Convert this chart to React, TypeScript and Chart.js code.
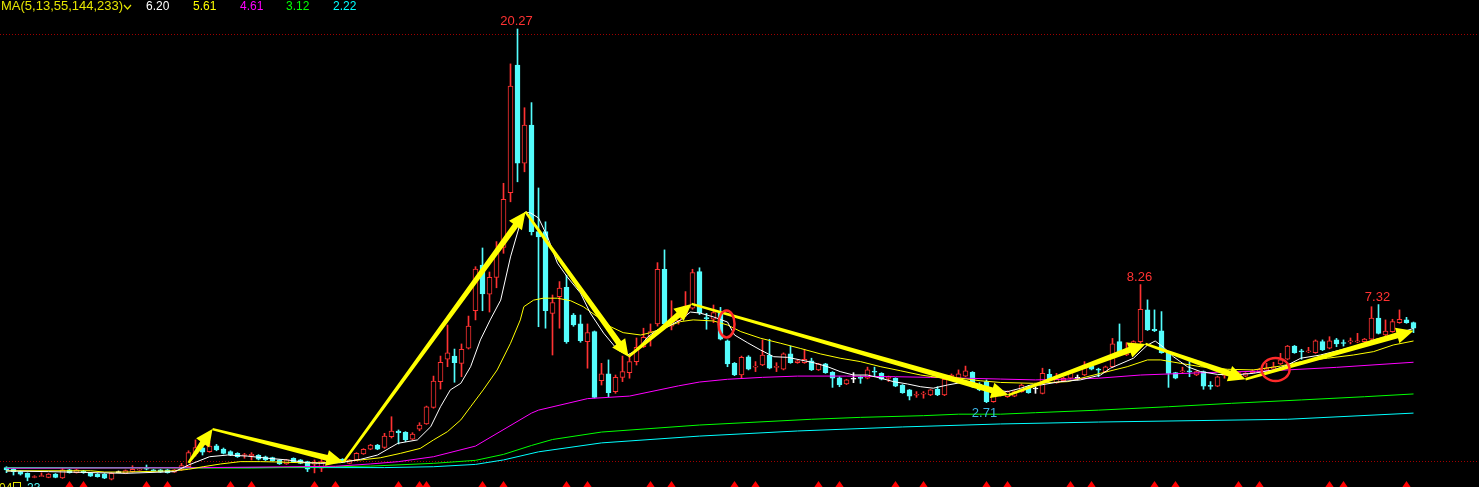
import React, { useEffect, useRef } from 'react';
import { Chart, registerables } from 'chart.js';

Chart.register(...registerables);

const W = 1479;
const H = 487;

// ---- candle data (前复权 prices) ----
const opens = [
  -0.34, -0.42, -0.53, -0.61, -0.79, -0.74, -0.80, -0.65, -0.82, -0.45,
  -0.58, -0.50, -0.61, -0.65, -0.65, -0.89, -0.53, -0.61, -0.53, -0.45,
  -0.37, -0.45, -0.45, -0.45, -0.55, -0.45, -0.30, 0.30, 0.59, 0.41,
  0.68, 0.53, 0.41, 0.33, 0.23, 0.22, 0.24, 0.17, 0.13, 0.02,
  -0.17, 0.10, 0.02, -0.06, -0.15, -0.37, -0.09, 0.02, 0.05, -0.14,
  0.02, 0.30, 0.52, 0.72, 0.61, 1.11, 1.38, 1.32, 0.99, 1.46,
  1.71, 2.49, 3.70, 4.76, 4.90, 4.56, 5.27, 7.03, 9.18, 7.81,
  8.60, 10.01, 12.58, 18.58, 13.96, 15.76, 10.75, 10.75, 6.91, 7.69,
  8.13, 6.83, 6.41, 5.58, 6.05, 3.74, 4.06, 3.23, 3.90, 4.12,
  4.64, 5.34, 5.81, 6.41, 8.98, 6.31, 6.55, 6.91, 7.15, 8.87,
  6.70, 6.63, 6.94, 5.62, 4.56, 4.01, 4.87, 4.38, 4.48, 4.95,
  4.37, 4.28, 5.00, 4.59, 4.59, 4.68, 4.25, 4.53, 4.14, 3.88,
  3.59, 3.86, 3.87, 3.86, 4.16, 4.09, 3.85, 3.86, 3.54, 3.31,
  3.06, 3.11, 3.07, 3.34, 3.07, 3.86, 3.86, 3.96, 4.14, 3.59,
  3.70, 2.76, 3.07, 2.99, 3.02, 3.23, 3.46, 3.40, 3.15, 4.04,
  3.64, 3.74, 3.86, 3.90, 4.01, 4.43, 4.26, 4.17, 4.40, 5.58,
  4.95, 5.31, 5.58, 7.07, 6.16, 6.09, 5.03, 4.12, 4.16, 4.18,
  4.01, 4.17, 3.50, 3.49, 3.99, 4.01, 4.01, 3.96, 4.12, 4.17,
  4.25, 4.28, 4.53, 4.75, 5.37, 5.12, 5.10, 5.06, 5.58, 5.27,
  5.66, 5.51, 5.57, 5.57, 5.58, 5.69, 6.68, 5.89, 6.05, 6.47,
  6.60, 6.47,
];
const highs = [
  -0.30, -0.37, -0.50, -0.59, -0.72, -0.59, -0.62, -0.62, -0.37, -0.42,
  -0.42, -0.47, -0.58, -0.62, -0.62, -0.58, -0.50, -0.45, -0.25, -0.38,
  -0.22, -0.43, -0.43, -0.43, -0.43, -0.14, 0.45, 0.96, 0.72, 0.86,
  0.75, 0.58, 0.45, 0.36, 0.33, 0.36, 0.27, 0.20, 0.15, 0.04,
  0.04, 0.12, 0.04, -0.04, 0.02, 0.10, 0.28, 0.05, 0.08, 0.04,
  0.36, 0.55, 0.75, 0.75, 1.27, 2.05, 1.43, 1.35, 1.30, 1.77,
  2.55, 3.96, 4.90, 6.36, 5.23, 5.47, 6.78, 9.10, 9.98, 8.85,
  10.28, 13.02, 18.63, 20.27, 16.57, 16.81, 12.80, 11.21, 7.77, 8.40,
  8.70, 6.90, 6.83, 6.41, 6.08, 4.56, 4.72, 4.01, 4.90, 4.90,
  5.75, 6.21, 6.41, 9.29, 9.89, 7.50, 7.00, 7.93, 8.98, 9.05,
  6.91, 7.30, 7.19, 5.66, 4.60, 4.90, 4.92, 4.64, 5.66, 5.69,
  4.59, 5.05, 5.37, 4.72, 5.22, 4.80, 4.56, 4.56, 4.17, 3.93,
  3.81, 4.12, 3.96, 4.38, 4.38, 4.12, 3.96, 3.88, 3.56, 3.33,
  3.23, 3.23, 3.33, 3.46, 3.83, 4.06, 4.25, 4.43, 4.17, 3.65,
  3.78, 3.15, 3.20, 3.27, 3.27, 3.59, 3.52, 3.46, 4.33, 4.28,
  4.09, 3.90, 4.21, 4.01, 4.64, 4.48, 4.33, 4.43, 5.73, 6.41,
  5.53, 5.62, 8.26, 7.54, 7.07, 6.99, 5.06, 4.14, 4.38, 4.64,
  4.20, 4.20, 3.70, 3.96, 4.12, 4.12, 4.14, 4.12, 4.25, 4.33,
  4.56, 4.61, 5.03, 5.40, 5.40, 5.22, 5.31, 5.66, 5.66, 5.81,
  5.73, 5.66, 5.75, 5.97, 5.73, 7.22, 7.32, 6.60, 6.63, 7.07,
  6.72, 6.50,
];
const lows = [
  -0.58, -0.69, -0.69, -0.96, -0.82, -0.76, -0.82, -0.82, -0.85, -0.60,
  -0.60, -0.61, -0.76, -0.79, -0.86, -0.92, -0.56, -0.63, -0.55, -0.47,
  -0.45, -0.50, -0.57, -0.60, -0.57, -0.47, -0.35, 0.20, 0.25, 0.38,
  0.45, 0.30, 0.22, 0.14, 0.10, 0.02, 0.02, -0.01, -0.04, -0.19,
  -0.19, -0.11, -0.16, -0.53, -0.59, -0.53, -0.11, -0.11, -0.10, -0.16,
  0.00, 0.28, 0.50, 0.50, 0.56, 1.05, 0.77, 0.88, 0.96, 1.39,
  1.69, 2.45, 3.35, 4.40, 3.67, 3.93, 5.23, 6.60, 7.03, 6.97,
  8.11, 9.73, 12.15, 13.09, 13.56, 10.59, 6.28, 6.21, 4.95, 6.21,
  5.50, 6.30, 5.55, 4.33, 2.93, 3.54, 2.99, 3.15, 3.70, 3.86,
  4.48, 5.30, 5.37, 6.31, 6.31, 6.13, 6.40, 6.75, 7.10, 6.85,
  6.16, 6.47, 5.66, 4.40, 3.98, 3.86, 4.25, 4.17, 4.45, 4.30,
  4.17, 4.25, 4.56, 4.56, 4.56, 4.22, 4.22, 4.09, 3.43, 3.46,
  3.56, 3.65, 3.62, 3.83, 3.93, 3.78, 3.70, 3.46, 3.15, 2.84,
  2.96, 2.92, 3.04, 3.04, 3.04, 3.81, 3.83, 3.93, 3.43, 3.27,
  2.71, 2.73, 3.02, 2.96, 2.99, 3.20, 3.15, 3.15, 3.12, 3.75,
  3.62, 3.72, 3.83, 3.78, 3.98, 4.25, 3.93, 4.14, 4.37, 5.08,
  4.92, 5.28, 5.50, 6.10, 6.05, 5.03, 3.43, 3.83, 4.10, 3.93,
  3.98, 3.34, 3.34, 3.46, 3.86, 3.98, 3.98, 3.93, 4.10, 4.14,
  4.22, 4.25, 4.50, 4.72, 5.03, 4.75, 5.06, 5.03, 5.16, 5.24,
  5.34, 5.37, 5.47, 5.53, 5.55, 5.66, 5.94, 5.86, 6.02, 6.44,
  6.44, 6.00,
];
const closes = [
  -0.45, -0.53, -0.65, -0.80, -0.76, -0.72, -0.65, -0.80, -0.45, -0.58,
  -0.45, -0.58, -0.74, -0.77, -0.84, -0.61, -0.53, -0.48, -0.42, -0.41,
  -0.42, -0.48, -0.55, -0.58, -0.45, -0.25, 0.36, 0.60, 0.38, 0.67,
  0.49, 0.33, 0.25, 0.17, 0.25, 0.28, 0.05, 0.02, -0.02, -0.17,
  0.02, -0.09, -0.14, -0.42, -0.13, -0.06, 0.17, -0.09, -0.08, 0.02,
  0.33, 0.52, 0.72, 0.53, 1.14, 1.38, 1.30, 0.96, 1.24, 1.66,
  2.52, 3.73, 4.61, 5.05, 4.59, 5.22, 6.31, 8.99, 7.82, 8.60,
  9.81, 12.27, 17.59, 13.96, 15.76, 10.75, 10.50, 7.03, 7.41, 8.09,
  5.58, 6.36, 5.62, 6.00, 2.96, 4.06, 3.18, 3.90, 4.17, 4.64,
  5.31, 5.78, 6.05, 8.98, 6.41, 6.63, 6.75, 7.25, 8.82, 6.94,
  6.66, 6.94, 5.69, 4.53, 4.01, 4.84, 4.28, 4.40, 4.95, 4.33,
  4.39, 5.00, 4.59, 4.68, 4.75, 4.25, 4.53, 4.12, 3.86, 3.54,
  3.78, 3.86, 3.85, 4.25, 4.14, 3.81, 3.87, 3.49, 3.18, 3.02,
  3.08, 3.13, 3.31, 3.07, 3.81, 4.01, 4.06, 4.21, 3.46, 3.31,
  2.76, 3.02, 3.12, 3.23, 3.23, 3.54, 3.18, 3.40, 4.09, 3.78,
  3.81, 3.86, 4.17, 3.90, 4.48, 4.28, 4.24, 4.40, 5.47, 5.11,
  5.11, 5.58, 7.10, 6.13, 6.09, 5.06, 4.09, 3.86, 4.18, 4.16,
  4.17, 3.49, 3.48, 3.93, 4.01, 4.08, 4.12, 4.09, 4.21, 4.28,
  4.33, 4.40, 4.72, 5.37, 5.06, 5.10, 5.12, 5.62, 5.19, 5.62,
  5.47, 5.49, 5.59, 5.59, 5.70, 6.68, 5.97, 6.08, 6.52, 6.63,
  6.47, 6.21,
];

// ---- moving-average lines: [bar index, value] ----
const ma5Pts = [
  [0, -0.50], [6, -0.53], [17, -0.61], [24, -0.53], [26, -0.22], [29, 0.17], [31.6, 0.25], [34.4, 0.20],
  [37.3, 0.10], [40.1, 0.02], [43, -0.11], [44.9, -0.14], [47.7, -0.11], [50.6, 0.05], [53, 0.25],
  [55.9, 0.80], [58.7, 0.96], [60.6, 1.58], [62, 2.52], [63.4, 3.31], [64.9, 3.62], [66.3, 4.40],
  [67.7, 5.66], [69.1, 6.60], [70.6, 7.53], [72, 9.56], [73.4, 11.15], [74.1, 11.67], [74.9, 11.62],
  [76, 11.39], [77.3, 10.50], [78.7, 9.27], [80.1, 8.62], [82, 7.86], [83.4, 6.92], [85.3, 5.98],
  [87.3, 5.19], [88.7, 4.95], [90.1, 5.19], [91.6, 5.80], [93, 6.13], [94.4, 6.27], [96.3, 6.60],
  [97.7, 6.97], [99.1, 6.92], [101, 6.74], [103, 6.50], [104, 5.89], [105.9, 5.52], [107.7, 5.19],
  [109.6, 4.87], [111.6, 4.84], [113.4, 4.72], [115.3, 4.59], [117.3, 4.40], [119.1, 4.17], [121, 4.01],
  [123, 4.01], [124.9, 3.86], [126.7, 3.70], [128.7, 3.59], [130.6, 3.46], [132.4, 3.39], [134.4, 3.54],
  [136.3, 3.65], [137.7, 3.70], [139.1, 3.54], [141, 3.31], [143, 3.23], [144.9, 3.39], [146.3, 3.54],
  [147.7, 3.54], [150.6, 3.70], [153.4, 3.78], [156.3, 4.01], [157.7, 4.33], [161, 4.80], [163, 5.42],
  [164.1, 5.61], [165.3, 5.31], [166.7, 4.87], [168.7, 4.40], [170.6, 4.17], [173, 4.04], [175.3, 4.01],
  [178.1, 4.09], [181, 4.25], [183, 4.48], [184.9, 4.80], [187.7, 4.95], [190.6, 5.19], [193.4, 5.42],
  [195.3, 5.66], [198.1, 5.89], [201, 6.20],
];
const ma13Pts = [
  [0, -0.49], [12, -0.49], [14, -0.55], [17, -0.55], [24, -0.49], [26, -0.42], [28.1, -0.30], [30.6, -0.17],
  [33.4, -0.06], [36.3, -0.06], [39.1, -0.08], [42, -0.11], [44.9, -0.11], [47.7, -0.06], [50.6, 0.02],
  [53.4, 0.12], [56.3, 0.33], [59.1, 0.56], [61, 0.96], [63, 1.35], [64.9, 1.90], [66.3, 2.52],
  [68.1, 3.31], [70.1, 4.25], [72, 5.50], [73.4, 6.60], [73.9, 7.22], [75.3, 7.53], [76.7, 7.62],
  [78.7, 7.62], [80.6, 7.50], [82.4, 7.22], [84.4, 6.75], [86.3, 6.28], [88.1, 6.00], [90.6, 5.89],
  [92, 6.00], [94.4, 6.28], [96.3, 6.52], [98.1, 6.60], [101, 6.55], [103, 6.36], [104.9, 6.05],
  [107.7, 5.74], [110.6, 5.50], [113.4, 5.26], [116.3, 5.00], [119.1, 4.80], [122, 4.64], [124.9, 4.40],
  [127.7, 4.21], [130.6, 4.01], [133.4, 3.88], [136.3, 3.86], [139.1, 3.74], [142, 3.66], [146.7, 3.62],
  [151.6, 3.70], [156.3, 4.09], [160.1, 4.40], [163, 4.72], [164.9, 4.72], [167.7, 4.56], [170.6, 4.40],
  [174.4, 4.28], [178.1, 4.25], [182, 4.43], [184.9, 4.64], [188.7, 4.80], [192.4, 4.95], [195.3, 5.11],
  [198.1, 5.42], [201, 5.61],
];
const ma55Pts = [
  [0, -0.37], [26, -0.35], [47, -0.28], [52, -0.17], [56, -0.06], [61, 0.17], [67, 0.67], [75, 2.22],
  [76, 2.36], [83, 2.90], [89, 3.02], [96, 3.50], [99, 3.68], [103, 3.81], [108, 3.90], [113, 3.96],
  [120, 3.96], [127, 3.93], [132, 3.90], [137, 3.86], [142, 3.82], [147, 3.78], [156, 3.86], [162, 4.01],
  [171, 4.12], [180, 4.20], [190, 4.37], [201, 4.61],
];
const ma144Pts = [
  [0, -0.36], [35, -0.36], [52, -0.27], [61, -0.14], [67, 0.00], [71, 0.28], [75, 0.70], [78, 0.98],
  [85, 1.33], [99, 1.66], [115, 1.93], [122, 2.02], [131, 2.10], [136, 2.17], [142, 2.17], [147, 2.24],
  [156, 2.36], [166, 2.52], [175, 2.68], [185, 2.84], [194, 2.99], [201, 3.12],
];
const ma233Pts = [
  [0, -0.34], [54, -0.34], [61, -0.30], [67, -0.19], [71, 0.02], [76, 0.40], [85, 0.82], [99, 1.14],
  [113, 1.38], [128, 1.57], [142, 1.71], [156, 1.80], [183, 1.93], [201, 2.22],
];

const legendLabel = 'MA(5,13,55,144,233)';
const legendValues = ['6.20', '5.61', '4.61', '3.12', '2.22'];

// ---- annotations ----
const highMarks = [73, 162, 196];
const lowMarks = [140];
const arrowPath = [
  [26.0, -0.12], [29.43, 1.47], [48.14, -0.08], [74.14, 11.68], [88.86, 4.87],
  [97.86, 7.35], [143.14, 3.07], [162.71, 5.47], [177.0, 3.81], [201.0, 6.09],
];
const circleMarks = [[102.86, 6.41], [181.3, 4.27]];
const signalIdx = [9, 11, 20, 23, 32, 35, 44, 47, 56, 59, 60, 68, 71, 80, 83, 92, 95, 104, 107, 116, 119, 127, 131, 140, 143, 152, 155, 164, 167, 176, 179, 189, 191, 200];
const gridLevels = [20.03, -0.03];

// ---- styles ----
const RED = '#ff3232';
const CYAN = '#54fcfc';
const WHITE = '#ffffff';
const MA_COLORS = ['#ffffff', '#ffff00', '#ff00ff', '#00ff00', '#00ffff'];
const X_MIN = -6.5 / 7;
const X_MAX = X_MIN + W / 7;
const Y_MAX = 21.633;
const Y_MIN = Y_MAX - H / 21.28;

function candleColor(i: number) {
  if (closes[i] > opens[i]) return RED;
  if (closes[i] < opens[i]) return CYAN;
  return WHITE;
}

function drawArrow(ctx: CanvasRenderingContext2D, x0: number, y0: number, x1: number, y1: number) {
  const dx = x1 - x0;
  const dy = y1 - y0;
  const len = Math.hypot(dx, dy);
  const ux = dx / len;
  const uy = dy / len;
  const nx = -uy;
  const ny = ux;
  const headLen = 17;
  const headW = 8;
  const w0 = 1.2;
  const w1 = 3;
  const bx = x1 - ux * headLen;
  const by = y1 - uy * headLen;
  ctx.beginPath();
  ctx.moveTo(x0 + nx * w0, y0 + ny * w0);
  ctx.lineTo(bx + nx * w1, by + ny * w1);
  ctx.lineTo(bx + nx * headW, by + ny * headW);
  ctx.lineTo(x1, y1);
  ctx.lineTo(bx - nx * headW, by - ny * headW);
  ctx.lineTo(bx - nx * w1, by - ny * w1);
  ctx.lineTo(x0 - nx * w0, y0 - ny * w0);
  ctx.closePath();
  ctx.fill();
}

const annotatePlugin = {
  id: 'annotate',
  beforeDraw(chart: any) {
    const { ctx } = chart;
    ctx.save();
    ctx.fillStyle = '#000000';
    ctx.fillRect(0, 0, chart.width, chart.height);
    ctx.restore();
  },
  beforeDatasetsDraw(chart: any) {
    const { ctx, chartArea, scales } = chart;
    ctx.save();
    ctx.strokeStyle = '#a00000';
    ctx.lineWidth = 1;
    ctx.setLineDash([1, 2]);
    gridLevels.forEach((lv) => {
      const y = Math.round(scales.y.getPixelForValue(lv)) + 0.5;
      ctx.beginPath();
      ctx.moveTo(chartArea.left, y);
      ctx.lineTo(chartArea.right, y);
      ctx.stroke();
    });
    ctx.restore();
  },
  afterDatasetsDraw(chart: any) {
    const { ctx, scales, chartArea } = chart;
    const px = (v: number) => scales.x.getPixelForValue(v);
    const py = (v: number) => scales.y.getPixelForValue(v);
    ctx.save();

    // arrows
    ctx.fillStyle = '#ffff00';
    for (let k = 0; k < arrowPath.length - 1; k++) {
      const a = arrowPath[k];
      const b = arrowPath[k + 1];
      drawArrow(ctx, px(a[0]), py(a[1]), px(b[0]), py(b[1]));
    }

    // red ellipses
    const sizes = [[8, 13.5], [14, 11.5]];
    ctx.strokeStyle = '#ff2a2a';
    ctx.lineWidth = 2.5;
    circleMarks.forEach(([i, v], k) => {
      ctx.beginPath();
      ctx.ellipse(px(i), py(v), sizes[k][0], sizes[k][1], 0, 0, Math.PI * 2);
      ctx.stroke();
    });

    // signal triangles at the bottom
    ctx.fillStyle = '#ff0000';
    const b = chartArea.bottom;
    signalIdx.forEach((i) => {
      const x = px(i);
      ctx.beginPath();
      ctx.moveTo(x, b - 6);
      ctx.lineTo(x + 5.5, b + 2);
      ctx.lineTo(x - 5.5, b + 2);
      ctx.closePath();
      ctx.fill();
    });

    // high / low labels
    ctx.font = '13px "Liberation Sans", Arial, sans-serif';
    ctx.textAlign = 'center';
    ctx.textBaseline = 'alphabetic';
    ctx.fillStyle = RED;
    highMarks.forEach((i) => {
      ctx.fillText(highs[i].toFixed(2), px(i) - 1, py(highs[i]) - 4);
    });
    ctx.textBaseline = 'top';
    ctx.fillStyle = '#3cb4e6';
    lowMarks.forEach((i) => {
      ctx.fillText(lows[i].toFixed(2), px(i) - 2, py(lows[i]) + 4);
    });

    // MA legend
    ctx.font = '13px "Liberation Sans", Arial, sans-serif';
    ctx.textAlign = 'left';
    ctx.textBaseline = 'alphabetic';
    ctx.fillStyle = '#e6e600';
    ctx.fillText(legendLabel, 1, 10);
    ctx.strokeStyle = '#e6e600';
    ctx.lineWidth = 1.2;
    ctx.beginPath();
    ctx.moveTo(124, 5);
    ctx.lineTo(127.5, 9);
    ctx.lineTo(131, 5);
    ctx.stroke();
    ctx.font = '12px "Liberation Sans", Arial, sans-serif';
    const lx = [146, 193, 240, 286, 333];
    legendValues.forEach((t, k) => {
      ctx.fillStyle = MA_COLORS[k];
      ctx.fillText(t, lx[k], 10);
    });

    // bottom-left date fragment
    ctx.fillStyle = '#e6e600';
    ctx.fillText('04', -1, 492);
    ctx.strokeStyle = '#e6e600';
    ctx.lineWidth = 1;
    ctx.strokeRect(13.5, 482.5, 7, 7);
    ctx.fillStyle = CYAN;
    ctx.fillText('23', 27, 492);

    ctx.restore();
  },
};

export default function App() {
  const ref = useRef<HTMLCanvasElement | null>(null);

  useEffect(() => {
    const canvas = ref.current;
    if (!canvas) return;
    const idx = opens.map((_, i) => i);
    const colors = idx.map(candleColor);
    const wickData = idx.map((i) => ({ x: i, y: [lows[i], highs[i]] }));
    const bodyData = idx.map((i) => ({ x: i, y: [Math.min(opens[i], closes[i]), Math.max(opens[i], closes[i])] }));
    const bodyFill = idx.map((i) => (colors[i] === RED ? '#000000' : colors[i]));
    const line = (pts: number[][], color: string, order: number) => ({
      type: 'line' as const,
      data: pts.map(([x, y]) => ({ x, y })),
      borderColor: color,
      borderWidth: 1,
      pointRadius: 0,
      tension: 0,
      fill: false,
      order,
    });

    const chart = new Chart(canvas, {
      type: 'bar',
      data: {
        datasets: [
          {
            type: 'bar',
            data: wickData as any,
            backgroundColor: colors,
            borderWidth: 0,
            barThickness: 1,
            grouped: false,
            minBarLength: 1,
            order: 20,
          } as any,
          {
            type: 'bar',
            data: bodyData as any,
            backgroundColor: bodyFill,
            borderColor: colors,
            borderWidth: 1,
            borderSkipped: false,
            barThickness: 5,
            grouped: false,
            minBarLength: 1,
            order: 19,
          } as any,
          line(ma233Pts, MA_COLORS[4], 5) as any,
          line(ma144Pts, MA_COLORS[3], 4) as any,
          line(ma55Pts, MA_COLORS[2], 3) as any,
          line(ma13Pts, MA_COLORS[1], 2) as any,
          line(ma5Pts, MA_COLORS[0], 1) as any,
        ],
      },
      options: {
        responsive: false,
        maintainAspectRatio: false,
        devicePixelRatio: 1,
        animation: false,
        events: [],
        layout: { padding: 0 },
        plugins: { legend: { display: false }, tooltip: { enabled: false } },
        scales: {
          x: { type: 'linear', min: X_MIN, max: X_MAX, offset: false, display: false },
          y: { type: 'linear', min: Y_MIN, max: Y_MAX, display: false },
        },
      },
      plugins: [annotatePlugin],
    });
    return () => chart.destroy();
  }, []);

  return (
    <div style={{ position: 'fixed', left: 0, top: 0, width: W, height: H, background: '#000', overflow: 'hidden' }}>
      <canvas ref={ref} width={W} height={H} style={{ display: 'block', width: W, height: H }} />
    </div>
  );
}
